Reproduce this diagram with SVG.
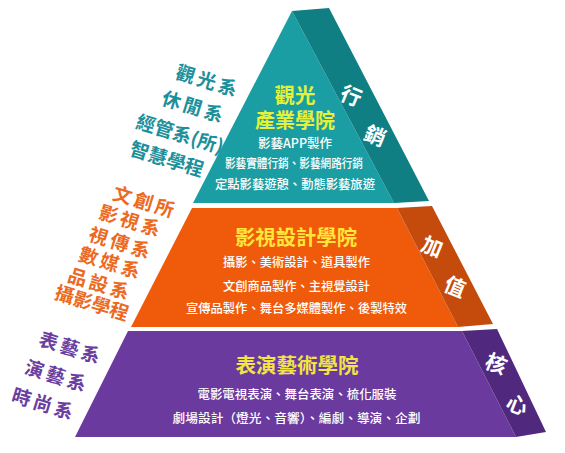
<svg xmlns="http://www.w3.org/2000/svg" width="565" height="453" viewBox="0 0 565 453">
<style>
text{font-family:"Noto Sans CJK TC","Noto Sans CJK SC",sans-serif;text-anchor:middle}
.title{font-size:20.5px;font-weight:700}
.body{font-size:12.5px;fill:#ffffff;font-weight:500}
.side{font-size:21px;fill:#ffffff;font-weight:700}
.lbl{font-size:19px;font-weight:700;letter-spacing:3px}
.lbl4{letter-spacing:0}
.tl{fill:#1b909a}.ol{fill:#ec6a1f}.pl{fill:#6a3d9f}
</style>
<rect width="565" height="453" fill="#ffffff"/>
<g id="tier-top">
<polygon points="292,11 193,203 394,203" fill="#1a9da3"/>
<polygon points="292,11 329,8 429,201 394,203" fill="#0f7f83"/>
<text class="title" fill="#e4f03a" font-size="20"><tspan x="295" y="103">觀光</tspan><tspan x="295" y="127.5" textLength="80" lengthAdjust="spacingAndGlyphs">產業學院</tspan></text>
<text class="body" x="295" y="148" textLength="74" lengthAdjust="spacingAndGlyphs">影藝APP製作</text>
<text class="body" x="294" y="168" textLength="138" lengthAdjust="spacingAndGlyphs">影藝實體行銷、影藝網路行銷</text>
<text class="body" x="295" y="189" textLength="160" lengthAdjust="spacingAndGlyphs">定點影藝遊憩、動態影藝旅遊</text>
<text class="side" transform="translate(351,96) rotate(22)" y="7.5">行</text>
<text class="side" transform="translate(375,136) rotate(22)" y="7.5">銷</text>
</g>
<g id="tier-middle">
<polygon points="192,208 397,208 458,327 131,327" fill="#ef5b0b"/>
<polygon points="397,208 432,206 493,324 458,327" fill="#c44b0c"/>
<text class="title" x="296" y="245" fill="#ffe63a" textLength="122" lengthAdjust="spacingAndGlyphs">影視設計學院</text>
<text class="body" x="296.5" y="267" textLength="147" lengthAdjust="spacingAndGlyphs">攝影、美術設計、道具製作</text>
<text class="body" x="296.5" y="291" textLength="147" lengthAdjust="spacingAndGlyphs">文創商品製作、主視覺設計</text>
<text class="body" x="296.5" y="313" textLength="221" lengthAdjust="spacingAndGlyphs">宣傳品製作、舞台多媒體製作、後製特效</text>
<text class="side" transform="translate(432,247) rotate(22)" y="7.5">加</text>
<text class="side" transform="translate(455,287) rotate(22)" y="7.5">值</text>
</g>
<g id="tier-bottom">
<polygon points="128,331 462,331 516,437 75,437" fill="#6a3a9e"/>
<polygon points="462,331 497,329 546,432 516,437" fill="#50297f"/>
<text class="title" x="297" y="373" fill="#f2e446" textLength="123" lengthAdjust="spacingAndGlyphs">表演藝術學院</text>
<text class="body" x="297" y="399" textLength="199" lengthAdjust="spacingAndGlyphs">電影電視表演、舞台表演、梳化服裝</text>
<text class="body" x="296.5" y="423" textLength="248" lengthAdjust="spacingAndGlyphs">劇場設計（燈光、音響）、編劇、導演、企劃</text>
<text class="side" transform="translate(496,364) rotate(22)" y="7.5">核</text>
<text class="side" transform="translate(517,405) rotate(22)" y="7.5">心</text>
</g>
<g id="labels-top">
<text class="lbl tl" transform="translate(208,81) rotate(17)" y="7">觀光系</text>
<text class="lbl tl" transform="translate(194,107) rotate(17)" y="7">休閒系</text>
<text class="lbl tl lbl4" transform="translate(180,134) rotate(17)" y="7">經管系(所)</text>
<text class="lbl tl lbl4" transform="translate(167,159) rotate(17)" y="7">智慧學程</text>
</g>
<g id="labels-middle">
<text class="lbl ol" transform="translate(145,202) rotate(17)" y="7">文創所</text>
<text class="lbl ol" transform="translate(131,221) rotate(17)" y="7">影視系</text>
<text class="lbl ol" transform="translate(121,243) rotate(17)" y="7">視傳系</text>
<text class="lbl ol" transform="translate(111,263) rotate(17)" y="7">數媒系</text>
<text class="lbl ol" transform="translate(100,284) rotate(17)" y="7">品設系</text>
<text class="lbl ol lbl4" transform="translate(92,303) rotate(17)" y="7">攝影學程</text>
</g>
<g id="labels-bottom">
<text class="lbl pl" transform="translate(71,348) rotate(17)" y="7">表藝系</text>
<text class="lbl pl" transform="translate(57,376) rotate(17)" y="7">演藝系</text>
<text class="lbl pl" transform="translate(44,404) rotate(17)" y="7">時尚系</text>
</g>
</svg>
